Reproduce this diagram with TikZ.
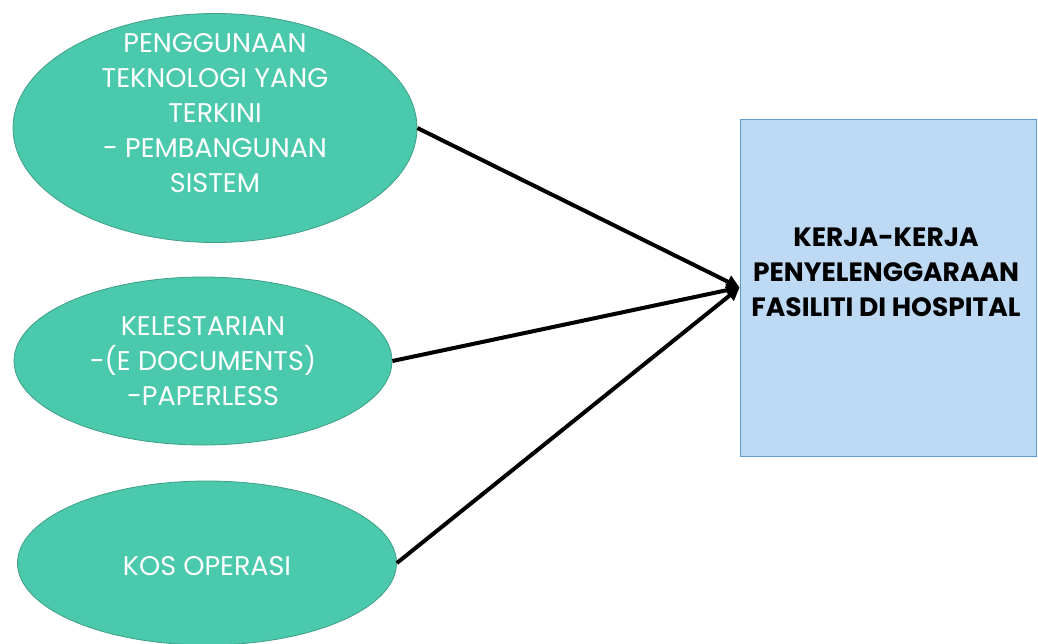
\documentclass[tikz,border=0pt]{standalone}
\usepackage{fontspec}
\setmainfont{Poppins}
\usetikzlibrary{shapes.geometric,arrows.meta}
\definecolor{ellfill}{HTML}{4BC9AC}
\definecolor{elldraw}{HTML}{3E9E86}
\definecolor{boxfill}{HTML}{BDD9F4}
\definecolor{boxdraw}{HTML}{5B9BD5}
\tikzset{
  ell/.style={ellipse, fill=ellfill, draw=elldraw, line width=0.8pt, inner sep=0pt},
  etext/.style={align=center, text=white, font=\fontsize{27}{35}\selectfont},
  bbox/.style={rectangle, fill=boxfill, draw=boxdraw, line width=0.8pt, inner sep=0pt},
  btext/.style={align=center, text=black, font=\bfseries\fontsize{26.5}{35}\selectfont},
  conn/.style={line width=4pt, -{Triangle[length=13pt,width=13pt]}}
}
\begin{document}
\begin{tikzpicture}[x=1pt,y=-1pt]
\useasboundingbox (0,0) rectangle (1038,643);
\node[ell, minimum width=404, minimum height=229] (e1) at (215,128) {};
\node[etext] (t1) at (215,113) {PENGGUNAAN\\TEKNOLOGI YANG\\TERKINI\\- PEMBANGUNAN\\SISTEM};
\node[ell, minimum width=378, minimum height=168] (e2) at (203,361) {};
\node[etext] (t2) at (203,361) {KELESTARIAN\\-(E DOCUMENTS)\\-PAPERLESS};
\node[ell, minimum width=379, minimum height=164] (e3) at (207,563) {};
\node[etext] (t3) at (207,566) {KOS OPERASI};
\node[bbox, minimum width=296, minimum height=337] (b) at (888,287.5) {};
\node[btext] (bt) at (886,272) {KERJA-KERJA\\PENYELENGGARAAN\\FASILITI DI HOSPITAL};
\draw[conn] (e1.east) -- (b.west);
\draw[conn] (e2.east) -- (b.west);
\draw[conn] (e3.east) -- (b.west);
\end{tikzpicture}
\end{document}
